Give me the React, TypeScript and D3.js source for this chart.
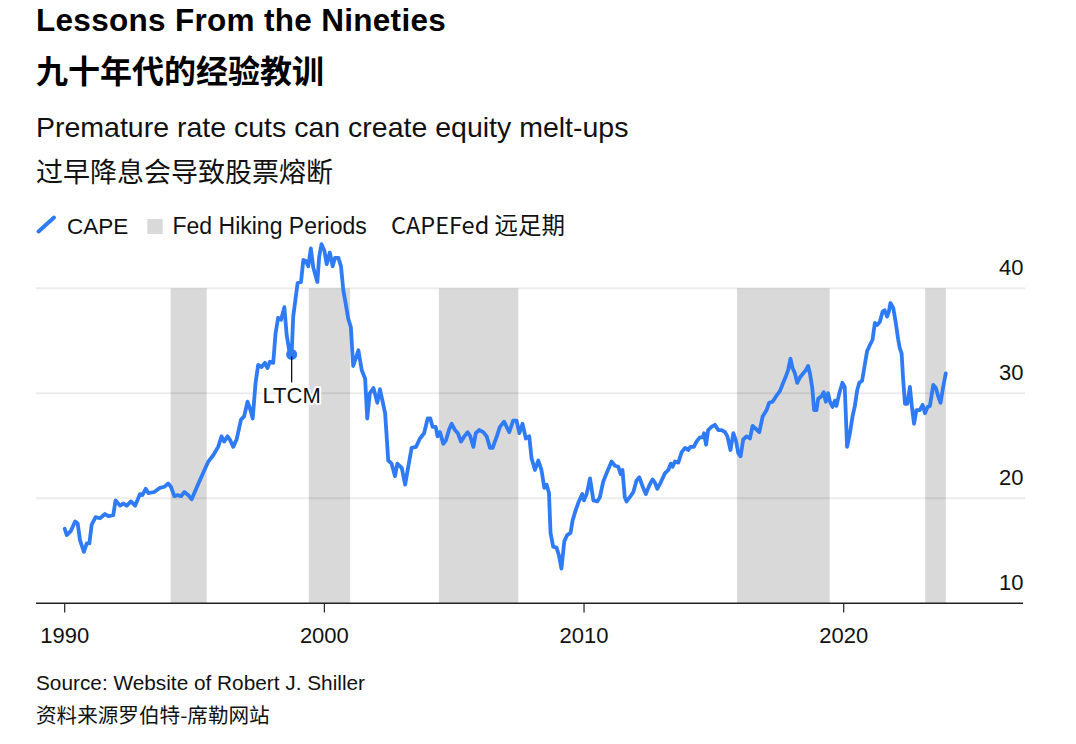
import React from "react";
import * as d3 from "d3";

// ---- Data ----
const dates: number[] = [
  1990.00, 1990.08, 1990.24, 1990.40, 1990.50, 1990.59, 1990.74, 1990.85, 1990.95,
  1991.04, 1991.19, 1991.36, 1991.55, 1991.68, 1991.87, 1991.96,
  1992.13, 1992.26, 1992.39, 1992.55, 1992.71, 1992.90, 1992.99,
  1993.12, 1993.22, 1993.45, 1993.67, 1993.84, 1993.99,
  1994.09, 1994.22, 1994.35, 1994.48, 1994.61, 1994.76, 1994.89,
  1995.15, 1995.40, 1995.53, 1995.72, 1995.91,
  1996.04, 1996.14, 1996.27, 1996.36, 1996.49, 1996.62, 1996.79, 1996.91,
  1997.04, 1997.13, 1997.24, 1997.35, 1997.45, 1997.58, 1997.71, 1997.81, 1997.90,
  1998.03, 1998.12, 1998.22, 1998.33, 1998.46, 1998.55, 1998.66, 1998.74, 1998.80, 1998.89, 1998.97,
  1999.10, 1999.19, 1999.29, 1999.38, 1999.48, 1999.57, 1999.73, 1999.80, 1999.89,
  2000.00, 2000.09, 2000.21, 2000.32, 2000.41, 2000.54, 2000.64, 2000.73, 2000.79, 2000.92,
  2001.02, 2001.11, 2001.31, 2001.44, 2001.57, 2001.65, 2001.75, 2001.89,
  2002.04, 2002.14, 2002.34, 2002.46, 2002.59, 2002.72, 2002.81, 2002.98,
  2003.11, 2003.23, 2003.36, 2003.53, 2003.68, 2003.84, 2003.98,
  2004.08, 2004.17, 2004.29, 2004.36, 2004.45, 2004.58, 2004.68, 2004.81, 2004.90,
  2005.03, 2005.14, 2005.26, 2005.39, 2005.52, 2005.62, 2005.74, 2005.83, 2005.96,
  2006.12, 2006.25, 2006.38, 2006.48, 2006.64, 2006.76, 2006.92,
  2007.12, 2007.27, 2007.40, 2007.51, 2007.63, 2007.76, 2007.89, 2007.98,
  2008.11, 2008.24, 2008.36, 2008.47, 2008.56, 2008.65, 2008.71, 2008.81, 2008.94,
  2009.03, 2009.13, 2009.24, 2009.35, 2009.48, 2009.56, 2009.67, 2009.80, 2009.93,
  2010.00, 2010.10, 2010.23, 2010.36, 2010.51, 2010.61, 2010.74, 2010.87,
  2011.06, 2011.19, 2011.32, 2011.41, 2011.48, 2011.57, 2011.64, 2011.79, 2011.90,
  2012.02, 2012.13, 2012.26, 2012.38, 2012.51, 2012.64, 2012.73, 2012.82, 2012.95,
  2013.12, 2013.25, 2013.34, 2013.41, 2013.50, 2013.63, 2013.76, 2013.89,
  2014.01, 2014.10, 2014.23, 2014.33, 2014.46, 2014.57, 2014.62, 2014.70, 2014.78, 2014.91,
  2015.04, 2015.17, 2015.30, 2015.43, 2015.52, 2015.64, 2015.75, 2015.85, 2015.94,
  2016.03, 2016.13, 2016.26, 2016.39, 2016.49, 2016.62, 2016.75, 2016.88,
  2017.03, 2017.13, 2017.26, 2017.42, 2017.54, 2017.67, 2017.77, 2017.86, 2017.95,
  2018.03, 2018.12, 2018.21, 2018.31, 2018.44, 2018.54, 2018.63, 2018.70, 2018.79, 2018.86, 2018.95,
  2019.02, 2019.14, 2019.23, 2019.31, 2019.40, 2019.47, 2019.57, 2019.66, 2019.72, 2019.83, 2019.95,
  2020.04, 2020.13, 2020.24, 2020.34, 2020.43, 2020.52, 2020.60, 2020.71, 2020.81, 2020.90,
  2021.01, 2021.11, 2021.20, 2021.29, 2021.39, 2021.50, 2021.58, 2021.67, 2021.74, 2021.80, 2021.91,
  2022.00, 2022.10, 2022.16, 2022.23, 2022.29, 2022.36, 2022.45, 2022.55, 2022.64, 2022.71, 2022.80, 2022.93,
  2023.04, 2023.13, 2023.23, 2023.32, 2023.45, 2023.55, 2023.64, 2023.73, 2023.83, 2023.93,
];

const cape: number[] = [
  17.1, 16.5, 16.9, 17.8, 17.6, 16.0, 14.9, 15.7, 15.7,
  17.5, 18.2, 18.1, 18.5, 18.3, 18.4, 19.8,
  19.3, 19.5, 19.3, 19.7, 19.3, 20.4, 20.3,
  20.9, 20.5, 20.6, 21.0, 21.1, 21.4,
  21.1, 20.2, 20.3, 20.2, 20.6, 20.3, 19.9,
  21.4, 22.8, 23.5, 24.1, 24.9,
  25.9, 25.4, 25.9, 25.6, 24.9, 25.6, 27.5, 27.8,
  29.2, 28.6, 27.6, 31.0, 32.7, 32.5, 32.9, 32.4, 33.0,
  32.9, 35.7, 37.2, 37.0, 38.2, 35.5, 33.9, 33.7, 37.3, 39.0, 40.5,
  40.6, 42.7, 42.6, 42.1, 43.8, 42.0, 40.6, 43.0, 44.2,
  43.6, 42.3, 43.4, 42.1, 42.9, 42.9, 42.1, 39.8, 39.0, 37.1,
  36.3, 32.6, 34.1, 32.2, 31.4, 27.6, 30.0, 30.5,
  29.1, 30.4, 28.1, 23.6, 23.3, 22.1, 23.3, 22.9,
  21.3, 23.0, 24.8, 24.9, 25.7, 26.2, 27.6,
  27.6, 26.8, 26.8, 25.9, 26.3, 25.2, 25.5, 26.6, 27.1,
  26.5, 26.2, 25.4, 25.9, 26.3, 25.9, 24.9, 26.2, 26.5,
  26.3, 25.9, 24.8, 24.8, 25.9, 26.8, 27.3,
  26.3, 27.4, 27.4, 26.2, 27.1, 25.7, 25.9, 23.8,
  22.7, 23.6, 22.7, 21.0, 21.3, 20.5, 16.7, 15.4, 15.3,
  14.6, 13.3, 15.9, 16.5, 16.7, 17.9, 18.8, 19.7, 20.4,
  19.8, 20.4, 21.9, 19.8, 19.7, 20.1, 21.6, 22.4,
  23.5, 23.1, 23.0, 22.3, 22.7, 20.1, 19.7, 20.2, 20.6,
  21.7, 22.0, 21.1, 20.4, 21.2, 21.8, 21.5, 20.9, 21.5,
  22.4, 22.7, 23.3, 23.0, 23.5, 23.4, 24.4, 24.8,
  24.6, 24.9, 24.9, 25.4, 25.8, 25.8, 26.2, 25.1, 26.5, 26.8,
  27.0, 26.5, 26.5, 26.3, 25.9, 24.6, 26.2, 25.5, 24.3,
  24.0, 25.6, 25.9, 25.7, 26.9, 26.6, 26.3, 27.8,
  28.4, 29.1, 29.2, 29.8, 30.2, 31.0, 31.6, 32.2, 33.3,
  32.4, 31.9, 31.0, 31.5, 31.9, 32.2, 32.6, 31.9, 30.5, 28.4, 28.4,
  29.5, 29.7, 30.1, 29.2, 30.0, 29.2, 28.7, 29.3, 28.8, 30.0, 31.0,
  30.6, 24.9, 26.2, 27.8, 28.8, 30.3, 31.0, 31.2, 32.7, 34.0,
  34.6, 35.1, 36.7, 36.5, 36.8, 37.8, 37.9, 37.3, 37.8, 38.6, 38.1,
  36.8, 35.1, 34.3, 33.8, 31.3, 29.0, 29.0, 30.6, 28.4, 27.1, 28.4, 28.4,
  28.9, 28.1, 28.7, 28.8, 30.8, 30.5, 29.7, 29.1, 30.6, 31.9,
];

const hikeStarts: number[] = [1994.08, 1999.40, 2004.41, 2015.89, 2023.14];
const hikeEnds: number[] = [1995.47, 2000.99, 2007.47, 2019.46, 2023.93];

const xTicks: number[] = [1990, 2000, 2010, 2020];
const yTicks: number[] = [10, 20, 30, 40];

const annotationDate = 1998.74;
const annotationLabel = "LTCM";

const title = "Lessons From the Nineties";
const titleCn = "九十年代的经验教训";
const subtitle = "Premature rate cuts can create equity melt-ups";
const subtitleCn = "过早降息会导致股票熔断";
const legendLabels = ["CAPE", "Fed Hiking Periods", "CAPEFed 远足期"];
const source = "Source: Website of Robert J. Shiller";
const sourceCn = "资料来源罗伯特-席勒网站";

const BLUE = "#2f7bf5";
const BAND = "#d9d9d9";
const FONT = "'Liberation Sans', Arial, Helvetica, sans-serif";
const CJK = "'Noto Sans CJK SC', 'Liberation Sans', sans-serif";

export default function App() {
  const W = 1076;
  const H = 744;
  const x = d3.scaleLinear().domain([1990, 2020]).range([64.7, 843.7]);
  const y = d3.scaleLinear().domain([10, 40]).range([603.3, 288.3]);
  const axisLeft = 36;
  const axisRight = 1023;

  const points: [number, number][] = dates.map((d, i) => [d, cape[i]]);
  const line = d3
    .line<[number, number]>()
    .x((d) => x(d[0]))
    .y((d) => y(d[1]))
    .curve(d3.curveLinear);

  const ai = dates.findIndex((d) => Math.abs(d - annotationDate) < 0.001);
  const ax = x(dates[ai]);
  const ay = y(cape[ai]);

  return (
    <svg
      width={W}
      height={H}
      viewBox={`0 0 ${W} ${H}`}
      style={{ position: "absolute", left: 0, top: 0, background: "#fff" }}
    >
      <rect width={W} height={H} fill="#fff" />
      {/* Titles */}
      <text x={36} y={30.5} fontFamily={FONT} fontWeight={700} fontSize={31.5} letterSpacing={0.3} fill="#000">
        {title}
      </text>
      <text x={36} y={83} fontFamily={CJK} fontWeight={700} fontSize={32} fill="#000">
        {titleCn}
      </text>
      <text x={36} y={136.5} fontFamily={FONT} fontSize={28.5} fill="#111">
        {subtitle}
      </text>
      <text x={36} y={182} fontFamily={CJK} fontSize={27} fill="#111">
        {subtitleCn}
      </text>

      {/* Legend */}
      <line x1={38.5} y1={231.5} x2={54} y2={217.5} stroke={BLUE} strokeWidth={4} strokeLinecap="round" />
      <text x={67} y={233.5} fontFamily={FONT} fontSize={22.5} fill="#111">
        {legendLabels[0]}
      </text>
      <rect x={147.3} y={219} width={15.4} height={15} fill={BAND} />
      <text x={172.5} y={233.5} fontFamily={FONT} fontSize={23} fill="#111">
        {legendLabels[1]}
      </text>
      <text x={391} y={233.5} fontFamily={CJK} fontSize={23.5} fill="#111">
        {legendLabels[2]}
      </text>

      {/* Hiking bands */}
      {hikeStarts.map((s, i) => (
        <rect
          key={"b" + i}
          x={x(s)}
          y={y(40)}
          width={x(hikeEnds[i]) - x(s)}
          height={y(10) - y(40)}
          fill={BAND}
        />
      ))}

      {/* Gridlines */}
      {yTicks
        .filter((t) => t > 10)
        .map((t) => (
          <line
            key={"g" + t}
            x1={axisLeft}
            x2={1025}
            y1={y(t)}
            y2={y(t)}
            stroke="rgba(0,0,0,0.075)"
            strokeWidth={2}
          />
        ))}

      {/* Y labels */}
      {yTicks.map((t) => (
        <text
          key={"yl" + t}
          x={1023.5}
          y={y(t) - 13.5}
          textAnchor="end"
          fontFamily={FONT}
          fontSize={22}
          fill="#111"
        >
          {t}
        </text>
      ))}

      {/* X axis */}
      <line x1={axisLeft} x2={axisRight} y1={603.3} y2={603.3} stroke="#222" strokeWidth={1.5} />
      {xTicks.map((t) => (
        <g key={"x" + t}>
          <line x1={x(t)} x2={x(t)} y1={603.3} y2={612.5} stroke="#222" strokeWidth={1.2} />
          <text x={x(t)} y={643} textAnchor="middle" fontFamily={FONT} fontSize={22} fill="#111">
            {t}
          </text>
        </g>
      ))}

      {/* CAPE line */}
      <path
        d={line(points) || ""}
        fill="none"
        stroke={BLUE}
        strokeWidth={3.8}
        strokeLinejoin="round"
        strokeLinecap="round"
      />

      {/* Annotation */}
      <circle cx={ax} cy={ay} r={5.5} fill={BLUE} />
      <line x1={ax} x2={ax} y1={ay + 2} y2={ay + 28} stroke="#111" strokeWidth={1.3} />
      <text
        x={ax}
        y={ay + 48.5}
        textAnchor="middle"
        fontFamily={FONT}
        fontSize={22}
        fill="#111"
        stroke="#fff"
        strokeWidth={4}
        paintOrder="stroke"
        strokeLinejoin="round"
      >
        {annotationLabel}
      </text>

      {/* Footer */}
      <text x={36} y={690} fontFamily={FONT} fontSize={20.8} fill="#111">
        {source}
      </text>
      <text x={36} y={723} fontFamily={CJK} fontSize={20.6} fill="#111">
        {sourceCn}
      </text>
    </svg>
  );
}
